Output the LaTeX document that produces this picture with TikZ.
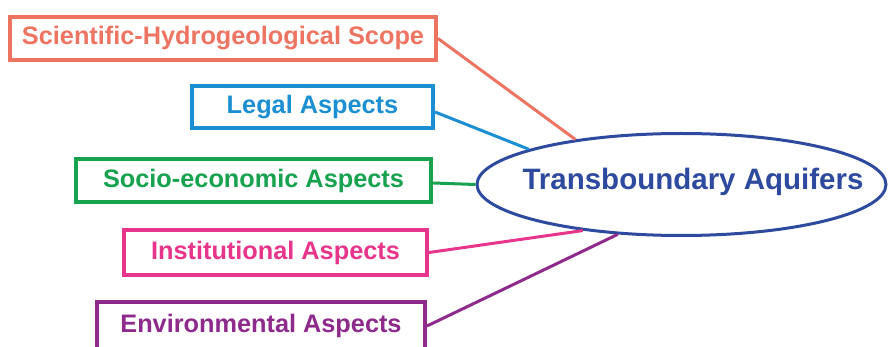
\documentclass[tikz,border=0pt]{standalone}
\usepackage{fontspec}
\setmainfont{Liberation Sans}
\usetikzlibrary{shapes.geometric}
\definecolor{cscope}{HTML}{EE7462}
\definecolor{clegal}{HTML}{1B8FD2}
\definecolor{csocio}{HTML}{17A24F}
\definecolor{cinst}{HTML}{E8358C}
\definecolor{cenv}{HTML}{8E2A8B}
\definecolor{cnavy}{HTML}{2E4A9E}
\tikzset{
  aspect/.style={draw=#1, text=#1, line width=4pt, inner sep=0pt, fill=white,
    font=\fontsize{25.3}{30}\selectfont\bfseries},
  link/.style={draw=#1, line width=3pt},
}
\begin{document}
\begin{tikzpicture}[x=1pt, y=-1pt]
  \useasboundingbox (0,0) rectangle (889,347);
  \clip (0,0) rectangle (889,347);
  % central topic
  \node[ellipse, draw=cnavy, line width=3pt, fill=white,
        minimum width=409pt, minimum height=102pt, inner sep=0pt] (ta) at (681.5,184.5) {};
  \node[text=cnavy, font=\fontsize{29.5}{34}\selectfont\bfseries, inner sep=0pt] (tatext) at (693,182) {Transboundary Aquifers};
  % aspect boxes
  \node[aspect=cscope, minimum width=426pt, minimum height=43pt] (scope) at (223,38.5) {Scientific-Hydrogeological Scope};
  \node[aspect=clegal, minimum width=241pt, minimum height=42pt] (legal) at (312.5,107) {Legal Aspects};
  \node[aspect=csocio, minimum width=355pt, minimum height=43pt] (socio) at (253.5,180.5) {Socio-economic Aspects};
  \node[aspect=cinst, minimum width=303pt, minimum height=45pt] (inst) at (275.5,252.5) {Institutional Aspects};
  % the lowest box runs past the lower edge
  \node[aspect=cenv, minimum width=328pt, text height=31pt, text depth=27pt] (env) at (261,331) {Environmental Aspects};
  % connectors
  \draw[link=cscope] (scope.east) -- (ta.157);
  \draw[link=clegal] ([yshift=-5pt]legal.east) -- (ta.167);
  \draw[link=csocio] ([yshift=-2.5pt]socio.east) -- (ta.west);
  \draw[link=cinst] (inst.east) -- (ta.205);
  \draw[link=cenv] ([yshift=5pt]env.east) -- (ta.218);
\end{tikzpicture}
\end{document}
